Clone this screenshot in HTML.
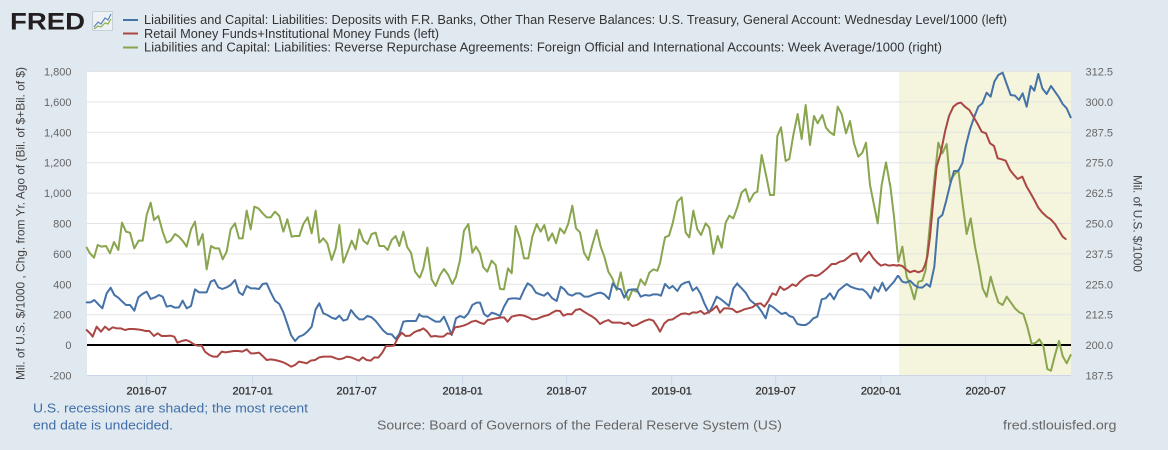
<!DOCTYPE html>
<html><head><meta charset="utf-8"><style>
html,body{margin:0;padding:0;background:#e1e9f0;}
svg{display:block;font-family:"Liberation Sans",Arial,sans-serif;}
</style></head><body>
<svg width="1168" height="450" viewBox="0 0 1168 450" xmlns="http://www.w3.org/2000/svg">
<rect x="0" y="0" width="1168" height="450" fill="#e1e9f0"/>
<!-- logo -->
<text x="10" y="29.5" font-size="24" font-weight="bold" fill="#231f20" textLength="75" lengthAdjust="spacingAndGlyphs">FRED</text>
<rect x="92.5" y="11.5" width="20" height="19" fill="#eef2f5" stroke="#c8d0d8" stroke-width="1"/>
<polyline points="94,27 98,22 101,24 105,18 108,20 111,14" fill="none" stroke="#5b86b8" stroke-width="1.2"/>
<polyline points="94,29 98,26 101,27 105,23 108,24 111,19" fill="none" stroke="#8fb04a" stroke-width="1.2"/>
<!-- legend -->
<line x1="123" y1="20" x2="138" y2="20" stroke="#4572A7" stroke-width="2"/>
<line x1="123" y1="33.5" x2="138" y2="33.5" stroke="#AA4643" stroke-width="2"/>
<line x1="123" y1="47.5" x2="138" y2="47.5" stroke="#89A54E" stroke-width="2"/>
<g font-size="12.5" fill="#333">
<text x="144" y="24" textLength="863" lengthAdjust="spacingAndGlyphs">Liabilities and Capital: Liabilities: Deposits with F.R. Banks, Other Than Reserve Balances: U.S. Treasury, General Account: Wednesday Level/1000 (left)</text>
<text x="144" y="38" textLength="295" lengthAdjust="spacingAndGlyphs">Retail Money Funds+Institutional Money Funds (left)</text>
<text x="144" y="51.7" textLength="798" lengthAdjust="spacingAndGlyphs">Liabilities and Capital: Liabilities: Reverse Repurchase Agreements: Foreign Official and International Accounts: Week Average/1000 (right)</text>
</g>
<!-- plot bg -->
<rect x="87" y="71" width="984" height="304.5" fill="#ffffff"/>
<rect x="899" y="71" width="172" height="304.5" fill="#f5f4dc"/>
<!-- grid -->
<g stroke="#e3e3e3" stroke-width="1">
<line x1="87" x2="1071" y1="71.5" y2="71.5"/>
<line x1="87" x2="1071" y1="101.9" y2="101.9"/>
<line x1="87" x2="1071" y1="132.3" y2="132.3"/>
<line x1="87" x2="1071" y1="162.7" y2="162.7"/>
<line x1="87" x2="1071" y1="193.1" y2="193.1"/>
<line x1="87" x2="1071" y1="223.5" y2="223.5"/>
<line x1="87" x2="1071" y1="253.9" y2="253.9"/>
<line x1="87" x2="1071" y1="284.3" y2="284.3"/>
<line x1="87" x2="1071" y1="314.7" y2="314.7"/>
</g>
<line x1="87" x2="1071" y1="375.5" y2="375.5" stroke="#ccd6eb" stroke-width="1"/>
<g stroke="#ccd6eb" stroke-width="1">
<line x1="146.7" x2="146.7" y1="375.5" y2="385"/>
<line x1="252.7" x2="252.7" y1="375.5" y2="385"/>
<line x1="356.7" x2="356.7" y1="375.5" y2="385"/>
<line x1="462.7" x2="462.7" y1="375.5" y2="385"/>
<line x1="566.7" x2="566.7" y1="375.5" y2="385"/>
<line x1="671.7" x2="671.7" y1="375.5" y2="385"/>
<line x1="775.7" x2="775.7" y1="375.5" y2="385"/>
<line x1="881" x2="881" y1="375.5" y2="385"/>
<line x1="985.7" x2="985.7" y1="375.5" y2="385"/>
</g>
<!-- left labels -->
<g font-size="11" fill="#666" text-anchor="end">
<text x="71.5" y="75.5">1,800</text>
<text x="71.5" y="105.9">1,600</text>
<text x="71.5" y="136.3">1,400</text>
<text x="71.5" y="166.7">1,200</text>
<text x="71.5" y="197.1">1,000</text>
<text x="71.5" y="227.5">800</text>
<text x="71.5" y="257.9">600</text>
<text x="71.5" y="288.3">400</text>
<text x="71.5" y="318.7">200</text>
<text x="71.5" y="349.1">0</text>
<text x="71.5" y="379.5">-200</text>
</g>
<!-- right labels -->
<g font-size="11" fill="#666">
<text x="1085.5" y="75.5">312.5</text>
<text x="1085.5" y="105.9">300.0</text>
<text x="1085.5" y="136.3">287.5</text>
<text x="1085.5" y="166.7">275.0</text>
<text x="1085.5" y="197.1">262.5</text>
<text x="1085.5" y="227.5">250.0</text>
<text x="1085.5" y="257.9">237.5</text>
<text x="1085.5" y="288.3">225.0</text>
<text x="1085.5" y="318.7">212.5</text>
<text x="1085.5" y="349.1">200.0</text>
<text x="1085.5" y="379.5">187.5</text>
</g>
<!-- x labels -->
<g font-size="11" fill="#333" stroke="#333" stroke-width="0.3" text-anchor="middle">
<text x="146.7" y="394.5">2016-07</text>
<text x="252.7" y="394.5">2017-01</text>
<text x="356.7" y="394.5">2017-07</text>
<text x="462.7" y="394.5">2018-01</text>
<text x="566.7" y="394.5">2018-07</text>
<text x="671.7" y="394.5">2019-01</text>
<text x="775.7" y="394.5">2019-07</text>
<text x="881" y="394.5">2020-01</text>
<text x="985.7" y="394.5">2020-07</text>
</g>
<!-- axis titles -->
<text transform="translate(24.5 223.5) rotate(-90)" font-size="12" fill="#444" text-anchor="middle" textLength="313" lengthAdjust="spacingAndGlyphs">Mil. of U.S. $/1000 , Chg. from Yr. Ago of (Bil. of $+Bil. of $)</text>
<text transform="translate(1133.5 223.5) rotate(90)" font-size="12" fill="#444" text-anchor="middle" textLength="97" lengthAdjust="spacingAndGlyphs">Mil. of U.S. $/1000</text>

<!-- zero line -->
<line x1="87" x2="1071" y1="345" y2="345" stroke="#000" stroke-width="2"/>

<!-- SERIES -->
<g fill="none" stroke-width="6" stroke-linejoin="round" stroke-linecap="round">
<!-- zoom4 -->
<g transform="translate(80 180) scale(0.3333333)">
<polyline stroke="#89A54E" points="20,203 30,220 42,233 53,195 65,200 78,198 90,220 102,186 115,210 126,128 138,155 150,158 163,205 176,182 188,182 200,105 212,68 222,120 235,108 248,155 260,188 272,182 285,162 297,170 310,185 320,200 333,148 345,125 355,195 368,162 380,268 393,198 405,205 417,205 428,238 440,215 452,148 465,130 477,175 488,175 500,92 512,148 523,80 535,85 548,100 560,112 572,112 585,95 598,108 610,155 622,118 635,170 645,168 658,168 670,132 683,112 695,160 707,92 718,188 730,175 742,190 755,240 767,205 778,135 790,248 803,215 815,182 827,208 838,148 850,182 862,192 875,162 887,158 898,198 912,198 923,210 935,180 947,168 958,198 970,155 982,202 993,218 1005,275 1018,292"/>
<polyline stroke="#4572A7" points="20,367 32,367 43,360 55,373 67,385 80,340 92,323 103,345 115,353 127,365 138,375 150,375 163,392 175,352 187,342 200,335 212,357 225,352 237,345 248,350 260,380 272,377 285,383 297,382 308,362 320,385 333,378 345,328 357,337 368,337 380,337 392,305 403,300 415,322 427,327 440,322 452,315 465,300 477,337 488,345 500,318 513,325 525,325 537,327 548,312 560,310 572,337 585,362 598,372 610,397 622,432 633,465 645,483 657,470 670,465 682,455 695,440 707,388 718,370 730,400 742,405 755,413 767,417 778,407 790,422 802,418 813,390 827,408 838,418 850,418 862,408 875,412 887,423 898,437 910,452 922,462 935,463 947,477 958,462 970,425 983,423 995,423 1008,423 1018,402"/>
<polyline stroke="#AA4643" points="20,450 32,462 38,470 50,440 63,455 75,440 87,450 98,442 110,445 122,445 135,450 147,447 160,447 172,448 185,450 197,453 208,453 222,468 233,460 245,468 258,468 272,467 283,470 292,488 305,483 318,480 330,485 340,492 352,497 365,497 375,515 388,525 400,530 412,530 425,515 437,517 450,515 462,513 475,513 487,515 500,508 512,520 523,520 537,518 550,530 560,540 572,538 585,540 597,543 610,547 622,553 633,560 645,555 657,545 668,547 680,550 692,542 705,540 718,532 730,530 742,530 755,530 767,535 778,538 790,535 800,530 813,532 825,537 837,542 848,532 860,540 872,542 883,532 895,533 907,518 918,498 930,498 942,497 953,475 965,458 977,468 990,467 1002,457 1018,450"/>
</g>
<!-- zoom5 -->
<g transform="translate(400 180) scale(0.3333333)">
<polyline stroke="#89A54E" points="58,292 60,292 70,265 82,203 95,298 107,318 120,285 132,267 145,285 157,312 168,290 180,240 192,152 205,132 217,218 228,200 240,220 250,262 262,275 275,242 287,255 300,327 312,328 324,265 335,280 347,138 360,175 372,235 385,235 397,170 410,132 422,155 433,135 445,182 457,160 468,190 480,145 493,160 505,130 517,77 528,145 540,157 552,218 565,240 577,195 590,150 602,200 613,230 625,275 637,295 650,330 662,277 673,330 685,360 697,330 710,335 722,298 735,315 748,278 760,268 772,272"/>
<polyline stroke="#4572A7" points="58,405 70,410 82,410 95,418 107,425 120,425 132,410 145,440 155,465 168,415 180,408 193,413 205,400 217,375 230,368 240,368 252,402 263,410 275,398 288,402 300,408 312,380 325,357 337,355 348,355 360,357 372,330 383,310 395,318 408,338 420,343 432,347 443,338 457,355 470,363 482,320 493,328 505,343 517,347 528,340 540,340 553,350 565,350 577,345 590,340 602,338 613,343 627,357 638,310 650,325 662,328 673,353 685,330 697,328 710,328 722,350 735,345 748,347 760,343 772,343 783,347 795,312 808,325 818,318 832,333 843,315 855,308 867,305 878,332 890,322 902,342 913,370 927,398 938,377 950,350 963,358 975,368 987,378 1000,325 1012,310"/>
<polyline stroke="#AA4643" points="58,452 70,445 82,455 93,470 105,468 118,470 130,470 142,460 155,462 165,442 178,440 190,437 203,432 215,425 227,422 240,428 252,432 263,420 275,418 288,415 300,413 312,412 323,425 335,410 347,407 360,405 372,407 385,412 397,418 410,417 422,412 433,408 445,405 457,398 468,392 480,393 490,407 503,402 515,403 527,390 540,387 552,395 565,403 577,410 588,418 600,432 612,425 625,420 637,428 650,428 662,428 673,432 685,428 697,438 710,435 722,428 735,422 748,418 760,422 772,440 780,455 793,430 805,420 818,418 830,410 843,402 855,400 867,403 878,397 890,398 902,393"/>
</g>
<!-- zoom6 green -->
<g transform="translate(660 90) scale(0.3333333)">
<polyline stroke="#89A54E" points="-8,542 0,520 15,442 27,437 38,400 52,335 65,322 77,428 88,442 100,362 112,418 123,435 137,400 148,413 160,492 173,438 185,473 197,398 208,377 220,385 232,352 245,307 257,297 268,335 282,310 292,305 305,195 318,255 330,315 342,315 352,138 363,112 377,213 388,207 400,135 413,72 425,147 437,45 450,165 462,78 473,100 487,75 498,113 510,127 522,135 533,50 545,72 558,130 570,93 582,160 595,200 607,188 618,158 630,285 642,345 653,400 665,285 678,217 690,285"/>
</g>
<!-- zoom8 blue/red -->
<g transform="translate(640 250) scale(0.3333333)">
<polyline stroke="#4572A7" points="292,102 305,115 317,128 330,150 342,160 353,168 365,185 377,205 388,165 400,172 412,182 425,192 437,188 448,198 460,202 472,222 485,225 497,225 508,218 520,205 532,200 545,148 557,145 570,130 582,148 595,122 607,112 620,102 632,110 645,115 657,118 668,118 680,128 692,145 703,112 715,125 727,98 738,122 750,108 762,95 773,78"/>
<polyline stroke="#AA4643" points="182,183 193,192 205,187 217,180 230,168 240,188 252,175 265,175 277,177 290,187 302,183 313,178 325,175 337,172 350,162 362,160 373,170 385,153 397,130 408,135 420,110 432,120 445,113 457,103 468,108 480,95 492,85 503,78 515,75 527,78 537,75 550,65 562,55 575,42 587,42 600,35 612,32 625,22 637,12 650,10 662,35 673,20 687,5 700,25 712,38 723,47 735,43 747,47 760,45 772,47"/>
</g>
<!-- zoom7 -->
<g transform="translate(880 60) scale(0.3333333)">
<polyline stroke="#89A54E" points="30,370 42,470 55,605 67,560 80,650 92,680 103,718 115,665 127,662 137,630 150,490 163,360 175,248 187,280 200,252 210,365 222,345 235,330 247,425 260,522 272,475 285,560 297,620 308,685 320,710 332,650 343,690 355,727 368,735 380,710 393,728 405,745 418,757 430,762 442,800 455,852 468,848 478,838 490,858 502,927 513,932 525,885 537,843 548,888 560,910 572,885"/>
<polyline stroke="#4572A7" points="53,648 55,648 67,665 78,668 90,662 103,675 115,682 127,683 140,672 150,680 163,620 175,475 187,465 198,425 210,375 222,333 235,333 247,310 258,255 270,208 283,170 295,140 307,130 320,98 332,110 343,65 355,45 368,38 380,72 392,105 405,107 417,120 428,100 440,140 452,78 463,92 475,42 487,85 500,102 513,78 525,95 537,112 548,132 560,145 572,172"/>
<polyline stroke="#AA4643" points="52,617 55,615 67,618 78,628 90,637 103,632 115,637 127,632 135,615 142,590 150,530 160,420 170,320 182,280 195,215 207,168 220,140 233,130 243,128 255,140 268,150 280,170 293,192 305,215 318,220 330,250 342,258 353,295 365,298 377,302 390,330 402,345 413,357 427,350 440,380 452,400 463,420 475,443 487,458 500,470 512,478 525,492 537,512 548,530 557,537"/>
</g>
</g>

<!-- footer -->
<g font-size="13" fill="#3f6ea8">
<text x="33" y="412.5" textLength="275" lengthAdjust="spacingAndGlyphs">U.S. recessions are shaded; the most recent</text>
<text x="33" y="429.5" textLength="140" lengthAdjust="spacingAndGlyphs">end date is undecided.</text>
</g>
<text x="377" y="429.5" font-size="13" fill="#666" textLength="405" lengthAdjust="spacingAndGlyphs">Source: Board of Governors of the Federal Reserve System (US)</text>
<text x="1003" y="429.5" font-size="13" fill="#666" textLength="113.5" lengthAdjust="spacingAndGlyphs">fred.stlouisfed.org</text>
</svg>
</body></html>
